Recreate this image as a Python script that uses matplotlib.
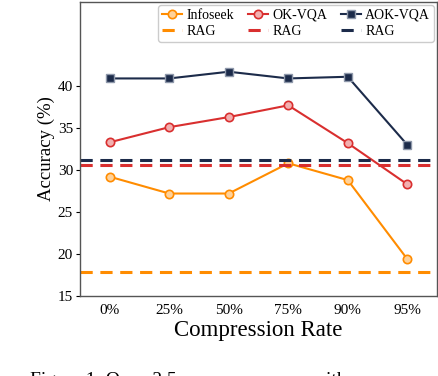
import matplotlib
matplotlib.use("Agg")
import matplotlib.pyplot as plt
import numpy as np

plt.rcParams['font.family'] = ['Liberation Serif', 'DejaVu Serif']

# data
rates = ['0%', '25%', '50%', '75%', '90%', '95%']
infoseek = [29.2, 27.2, 27.2, 30.8, 28.8, 19.4]
okvqa = [33.3, 35.1, 36.3, 37.7, 33.2, 28.3]
aokvqa = [40.9, 40.9, 41.7, 40.9, 41.1, 33.0]
rag_infoseek = 17.8
rag_okvqa = 30.6
rag_aokvqa = 31.2

c_orange = '#ff8c00'
c_red = '#d92f2f'
c_navy = '#1c2b4a'

x = np.arange(len(rates))

fig = plt.figure(figsize=(4.38, 3.76), dpi=100)
ax = fig.add_axes([80/438, 80/376, 357/438, 294/376])

ax.plot(x, infoseek, '-', color=c_orange, lw=1.5, marker='o', ms=6, mfc='#ffd29a',
        mec=c_orange, mew=1.2, label='Infoseek')
ax.axhline(rag_infoseek, color=c_orange, lw=2.2, ls=(0, (4, 2.5)), label='RAG')
ax.plot(x, okvqa, '-', color=c_red, lw=1.5, marker='o', ms=6, mfc='#f2b0b0',
        mec=c_red, mew=1.2, label='OK-VQA')
ax.axhline(rag_okvqa, color=c_red, lw=2.2, ls=(0, (4, 2.5)), label='RAG')
ax.plot(x, aokvqa, '-', color=c_navy, lw=1.5, marker='s', ms=5.5, mfc=c_navy,
        mec='#8e98aa', mew=1.0, label='AOK-VQA')
ax.axhline(rag_aokvqa, color=c_navy, lw=2.2, ls=(0, (4, 2.5)), label='RAG')

ax.set_xlim(-0.5, 5.5)
ax.set_ylim(15, 50)
ax.set_yticks([15, 20, 25, 30, 35, 40])
ax.set_xticks(x)
ax.set_xticklabels(rates)
ax.tick_params(axis='x', length=0, labelsize=11, pad=6)
ax.tick_params(axis='y', length=3, labelsize=11, pad=2)
for s in ax.spines.values():
    s.set_color('#555555')
    s.set_linewidth(1.0)

ax.set_xlabel('Compression Rate', fontsize=16.5, labelpad=2)
ax.set_ylabel('Accuracy (%)', fontsize=13.5, labelpad=2)

leg = ax.legend(ncol=3, loc='upper right', fontsize=10, handlelength=1.45,
                columnspacing=1.0, handletextpad=0.3, borderpad=0.3,
                labelspacing=0.2, borderaxespad=0.2, framealpha=1)
leg.get_frame().set_edgecolor('#cccccc')

# caption of the page, mostly cut off by the bottom edge
fig.text(30/438, -9/376, 'Figure 1: Qwen2.5 accuracy curves with', fontsize=14,
         va='baseline', ha='left')

fig.savefig('out.png', dpi=100)
